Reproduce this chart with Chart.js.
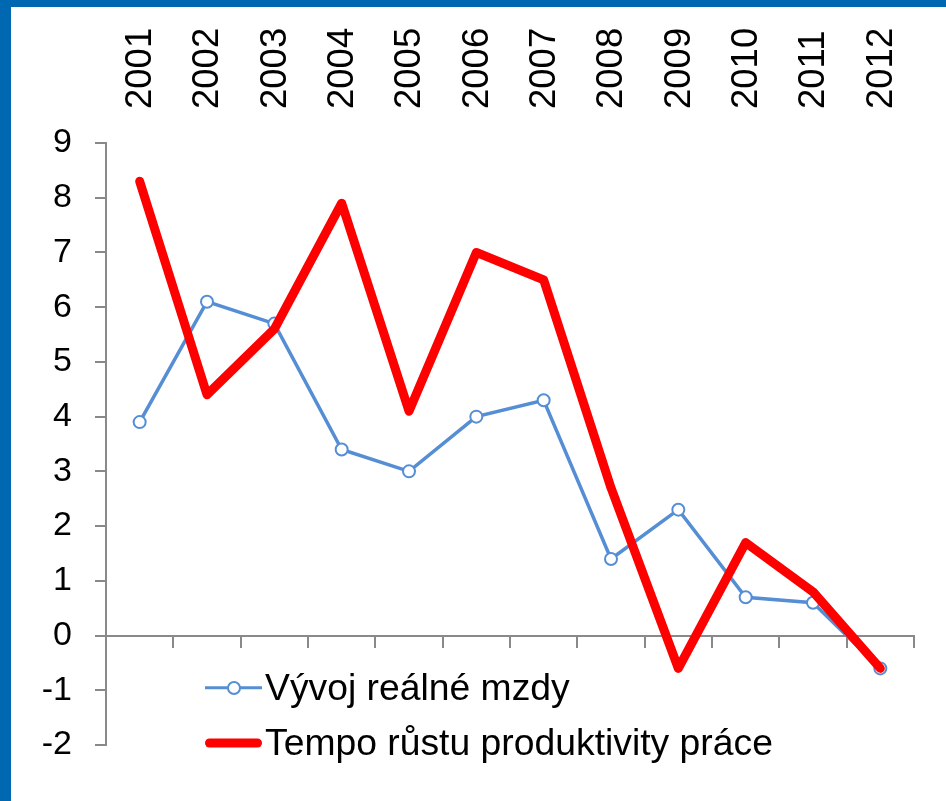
<!DOCTYPE html>
<html><head><meta charset="utf-8">
<script src="https://cdn.jsdelivr.net/npm/chart.js@4/dist/chart.umd.min.js"></script>
<style>
html,body{margin:0;padding:0;background:#fff;}
#wrap{position:relative;width:946px;height:801px;overflow:hidden;background:#fff;}
#topbar{position:absolute;left:0;top:0;width:946px;height:7px;background:#0068B1;z-index:2;}
#leftbar{position:absolute;left:0;top:0;width:11px;height:801px;background:#0068B1;z-index:2;}
canvas{position:absolute;left:0;top:0;}
#legend{position:absolute;left:205px;top:660px;font-family:"Liberation Sans",Arial,sans-serif;font-size:37.3px;color:#000;z-index:3;}
.item{display:flex;align-items:center;height:55px;white-space:nowrap;}
.swatch{position:relative;width:57px;height:20px;margin-right:3px;}
.swatch .ln{position:absolute;left:0;right:0;top:50%;transform:translateY(-50%);}
.swatch .pt{position:absolute;left:50%;top:50%;transform:translate(-50%,-50%);background:#fff;border-radius:50%;box-sizing:border-box;}
</style>
</head><body>
<div id="wrap">
<canvas id="c" width="946" height="801"></canvas>
<div id="topbar"></div><div id="leftbar"></div>
<div id="legend"></div>
</div>
<script>
const categories = ['2001','2002','2003','2004','2005','2006','2007','2008','2009','2010','2011','2012'];
const realWages = [3.9, 6.1, 5.7, 3.4, 3.0, 4.0, 4.3, 1.4, 2.3, 0.7, 0.6, -0.6];
const productivity = [8.3, 4.4, 5.6, 7.9, 4.1, 7.0, 6.5, 2.7, -0.6, 1.7, 0.8, -0.6];
const seriesNames = ['Vývoj reálné mzdy', 'Tempo růstu produktivity práce'];
const yMin = -2, yMax = 9, yStep = 1;

const FONT = '"Liberation Sans", Arial, sans-serif';
const AXIS = '#898989';

const chart = new Chart(document.getElementById('c'), {
  type: 'line',
  data: {
    labels: categories,
    datasets: [
      {
        label: seriesNames[0], data: realWages, order: 1,
        borderColor: '#558ED5', borderWidth: 3.5, backgroundColor: '#fff',
        pointRadius: 6, pointBorderWidth: 2, pointBorderColor: '#558ED5', pointBackgroundColor: '#fff',
        tension: 0, fill: false
      },
      {
        label: seriesNames[1], data: productivity, order: 0,
        borderColor: '#FF0000', borderWidth: 9, pointRadius: 0,
        borderCapStyle: 'round', borderJoinStyle: 'round',
        tension: 0, fill: false
      }
    ]
  },
  options: {
    responsive: false, animation: false,
    layout: { padding: { left: 0, right: 32, top: 0, bottom: 56 } },
    plugins: { legend: { display: false }, tooltip: { enabled: false } },
    scales: {
      x: {
        type: 'category', position: 'top', offset: true,
        grid: { display: false, drawTicks: false },
        border: { display: false },
        ticks: { autoSkip: false, maxRotation: 90, minRotation: 90, padding: 34, labelOffset: 45, color: '#000', font: { family: FONT, size: 36.5 } },
        afterFit: (s) => { s.height = 143; }
      },
      x2: {
        type: 'category', axis: 'x', position: { y: 0 }, offset: true,
        grid: { offset: true, drawOnChartArea: false, drawTicks: true, tickLength: 11, color: AXIS, lineWidth: 2 },
        border: { display: true, color: AXIS, width: 2 },
        ticks: { display: false }
      },
      y: {
        min: yMin, max: yMax,
        ticks: { stepSize: yStep, padding: 23, color: '#000', font: { family: FONT, size: 34 } },
        grid: { drawOnChartArea: false, tickLength: 11, color: AXIS, lineWidth: 2 },
        border: { color: AXIS, width: 2 },
        afterFit: (s) => { s.width = 106; }
      }
    }
  }
});

// HTML legend built from the datasets
const leg = document.getElementById('legend');
chart.data.datasets.forEach((ds) => {
  const item = document.createElement('div'); item.className = 'item';
  const sw = document.createElement('div'); sw.className = 'swatch';
  const ln = document.createElement('div'); ln.className = 'ln';
  ln.style.height = ds.borderWidth + 'px'; ln.style.background = ds.borderColor;
  if (ds.borderCapStyle === 'round') ln.style.borderRadius = (ds.borderWidth / 2) + 'px';
  sw.appendChild(ln);
  if (ds.pointRadius > 0) {
    const pt = document.createElement('div'); pt.className = 'pt';
    const d = (ds.pointRadius + ds.pointBorderWidth / 2) * 2;
    pt.style.width = d + 'px'; pt.style.height = d + 'px';
    pt.style.border = ds.pointBorderWidth + 'px solid ' + ds.pointBorderColor;
    sw.appendChild(pt);
  }
  const tx = document.createElement('span'); tx.textContent = ds.label;
  item.appendChild(sw); item.appendChild(tx);
  leg.appendChild(item);
});
</script>
</body></html>
